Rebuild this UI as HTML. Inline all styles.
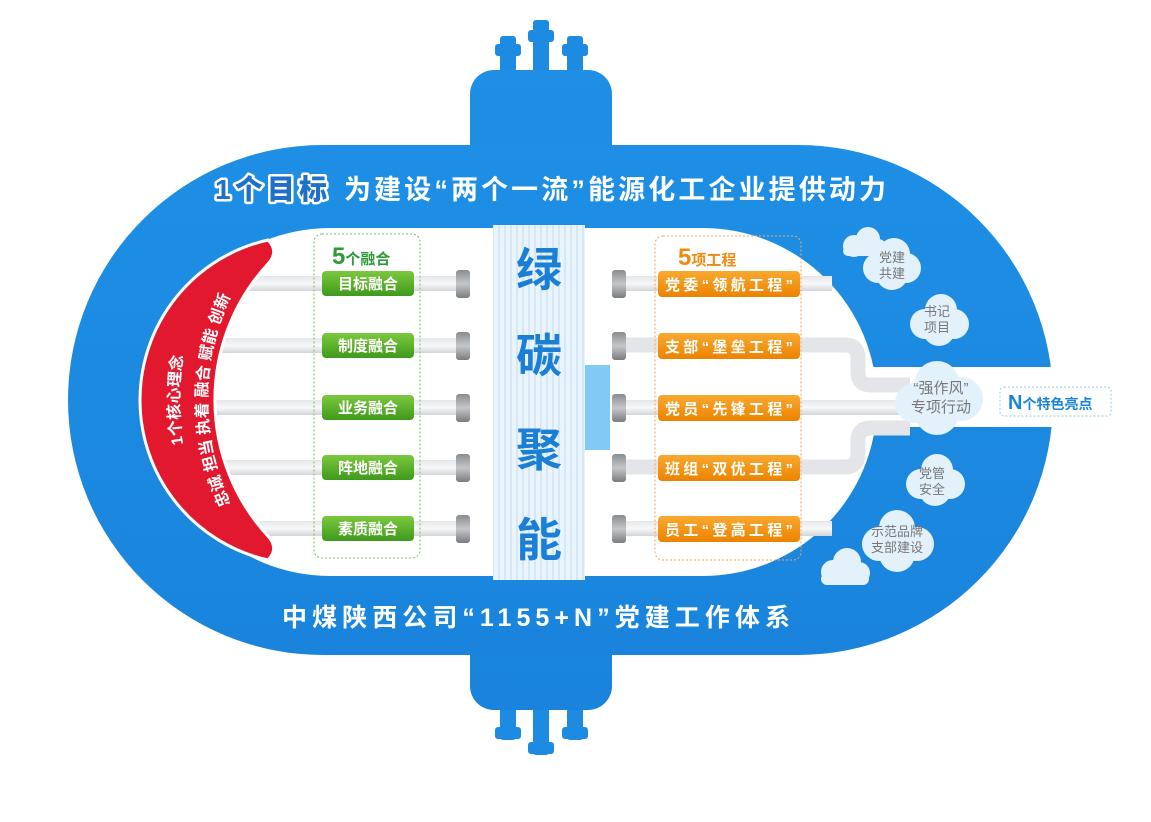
<!DOCTYPE html>
<html><head><meta charset="utf-8"><style>
html,body{margin:0;padding:0;background:#fff;}
svg{display:block;font-family:"Liberation Sans","Noto Sans CJK SC",sans-serif;}
</style></head><body>
<svg width="1151" height="822" viewBox="0 0 1151 822" xmlns="http://www.w3.org/2000/svg">
<defs>
<linearGradient id="pipe" x1="0" y1="0" x2="0" y2="1">
<stop offset="0" stop-color="#e4e6e8"/><stop offset="0.5" stop-color="#f7f8f9"/><stop offset="1" stop-color="#d3d6d9"/></linearGradient>
<linearGradient id="cap" x1="0" y1="0" x2="0" y2="1">
<stop offset="0" stop-color="#8a8d90"/><stop offset="0.5" stop-color="#c4c6c8"/><stop offset="1" stop-color="#7a7d80"/></linearGradient>
<linearGradient id="grn" x1="0" y1="0" x2="0" y2="1">
<stop offset="0" stop-color="#7cc83e"/><stop offset="1" stop-color="#3f9a1c"/></linearGradient>
<linearGradient id="org" x1="0" y1="0" x2="0" y2="1">
<stop offset="0" stop-color="#f9a930"/><stop offset="1" stop-color="#ec8300"/></linearGradient>
<linearGradient id="blu" x1="0" y1="0" x2="0" y2="1">
<stop offset="0" stop-color="#1e8fe5"/><stop offset="1" stop-color="#1a84dc"/></linearGradient>
<pattern id="stripe" width="6" height="10" patternUnits="userSpaceOnUse">
<rect width="6" height="10" fill="#eaf4fc"/><rect x="0" width="2" height="10" fill="#d6e8f7"/></pattern>
<path id="p1" d="M243,574 A270,270 0 0 1 243,226"/>
<path id="p2" d="M264,556 A243,243 0 0 1 264,244"/>
</defs>

<g fill="#1d8be2">
<rect x="500" y="36" width="16" height="50" rx="3"/><rect x="495" y="44" width="26" height="12" rx="3"/>
<rect x="533" y="20" width="16" height="60" rx="3"/><rect x="528" y="30" width="26" height="12" rx="3"/>
<rect x="567" y="36" width="16" height="50" rx="3"/><rect x="562" y="44" width="26" height="12" rx="3"/>
<rect x="500" y="690" width="16" height="50" rx="3"/><rect x="495" y="727" width="26" height="12" rx="3"/>
<rect x="533" y="690" width="16" height="65" rx="3"/><rect x="528" y="742" width="26" height="12" rx="3"/>
<rect x="567" y="690" width="16" height="50" rx="3"/><rect x="562" y="727" width="26" height="12" rx="3"/>
</g>
<rect x="470" y="70" width="142" height="640" rx="24" fill="url(#blu)"/>

<path d="M323,145 H798 A255,255 0 0 1 798,655 H323 A255,255 0 0 1 323,145 Z" fill="url(#blu)"/>
<path d="M330,228 H703 A174,174 0 0 1 703,576 H330 A174,174 0 0 1 330,228 Z" fill="#fff"/>
<rect x="850" y="367" width="215" height="60" fill="#fff"/>

<g fill="url(#pipe)">
<rect x="230" y="276" width="240" height="15"/>
<rect x="200" y="338" width="270" height="15"/>
<rect x="190" y="400" width="280" height="15"/>
<rect x="200" y="460" width="270" height="15"/>
<rect x="230" y="521" width="240" height="15"/>
<rect x="612" y="276" width="220" height="15"/>
<rect x="612" y="521" width="220" height="15"/>
<rect x="612" y="400" width="300" height="15"/>
</g>
<g fill="none" stroke="#e3e5e8" stroke-width="15">
<path d="M612,345 H845 Q858,345 858,358 V372 Q858,385 871,385 H910"/>
<path d="M612,467 H845 Q858,467 858,454 V440 Q858,428 871,428 H910"/>
</g>
<g fill="url(#cap)">
<rect x="456" y="270" width="14" height="28" rx="3"/><rect x="456" y="332" width="14" height="28" rx="3"/>
<rect x="456" y="394" width="14" height="28" rx="3"/><rect x="456" y="454" width="14" height="28" rx="3"/>
<rect x="456" y="515" width="14" height="28" rx="3"/>
<rect x="612" y="270" width="14" height="28" rx="3"/><rect x="612" y="332" width="14" height="28" rx="3"/>
<rect x="612" y="394" width="14" height="28" rx="3"/><rect x="612" y="454" width="14" height="28" rx="3"/>
<rect x="612" y="515" width="14" height="28" rx="3"/>
</g>

<rect x="493" y="225" width="92" height="355" fill="url(#stripe)"/>
<rect x="585" y="365" width="25" height="85" fill="#82c9f4"/>
<g fill="#1b7fd6" font-size="46" font-weight="bold" text-anchor="middle">
<text x="539" y="286">绿</text><text x="539" y="372">碳</text>
<text x="539" y="466">聚</text><text x="539" y="556">能</text>
</g>

<rect x="314" y="234" width="106" height="324" rx="8" fill="none" stroke="#7cbf5a" stroke-dasharray="2,2"/>
<rect x="655" y="236" width="146" height="324" rx="8" fill="none" stroke="#f2a55a" stroke-dasharray="2,2"/>
<text x="332" y="264" fill="#2f9a3a" font-size="24" font-weight="bold">5<tspan font-size="15">个融合</tspan></text>
<text x="678" y="265" fill="#f08a10" font-size="24" font-weight="bold">5<tspan font-size="15">项工程</tspan></text>

<g fill="url(#grn)">
<rect x="322" y="271" width="92" height="25" rx="4"/><rect x="322" y="333" width="92" height="25" rx="4"/>
<rect x="322" y="395" width="92" height="25" rx="4"/><rect x="322" y="455" width="92" height="25" rx="4"/>
<rect x="322" y="516" width="92" height="25" rx="4"/>
</g>
<g fill="#fff" font-size="15" font-weight="bold" text-anchor="middle">
<text x="368" y="289">目标融合</text><text x="368" y="351">制度融合</text>
<text x="368" y="413">业务融合</text><text x="368" y="473">阵地融合</text>
<text x="368" y="534">素质融合</text>
</g>
<g fill="url(#org)">
<rect x="658" y="271" width="142" height="26" rx="4"/><rect x="658" y="333" width="142" height="26" rx="4"/>
<rect x="658" y="395" width="142" height="26" rx="4"/><rect x="658" y="455" width="142" height="26" rx="4"/>
<rect x="658" y="516" width="142" height="26" rx="4"/>
</g>
<g fill="#fff" font-size="15" font-weight="bold">
<text x="665" y="290" textLength="128">党委“领航工程”</text><text x="665" y="352" textLength="128">支部“堡垒工程”</text>
<text x="665" y="414" textLength="128">党员“先锋工程”</text><text x="665" y="474" textLength="128">班组“双优工程”</text>
<text x="665" y="535" textLength="128">员工“登高工程”</text>
</g>

<path d="M268,240 A164,164 0 0 0 268,560 Q280,548 267,535 A201,201 0 0 1 267,265 Q280,252 268,240 Z" fill="#e2182e" stroke="#fff" stroke-width="3"/>
<g fill="#fff" font-size="16" font-weight="bold">
<text><textPath href="#p1" startOffset="50%" text-anchor="middle">1个核心理念</textPath></text>
<text><textPath href="#p2" startOffset="50%" text-anchor="middle">忠诚 担当 执着 融合 赋能 创新</textPath></text>
</g>

<g fill="#e3f1fb">
<g transform="translate(862,242)"><circle cx="-8" cy="4" r="11"/><circle cx="6" cy="-3" r="12"/><circle cx="16" cy="6" r="9"/><rect x="-19" y="4" width="44" height="10" rx="5"/></g>
<g transform="translate(890,262)"><circle cx="-12" cy="6" r="15"/><circle cx="4" cy="-8" r="16"/><circle cx="16" cy="6" r="15"/><circle cx="2" cy="12" r="16"/></g>
<g transform="translate(937,318)"><circle cx="-12" cy="6" r="15"/><circle cx="4" cy="-8" r="16"/><circle cx="17" cy="6" r="15"/><circle cx="2" cy="12" r="16"/></g>
<g transform="translate(937,397)"><circle cx="-22" cy="6" r="20"/><circle cx="0" cy="-14" r="22"/><circle cx="24" cy="2" r="22"/><circle cx="0" cy="16" r="22"/></g>
<g transform="translate(933,478)"><circle cx="-12" cy="6" r="15"/><circle cx="4" cy="-8" r="16"/><circle cx="17" cy="6" r="15"/><circle cx="2" cy="12" r="16"/></g>
<g transform="translate(897,540)"><circle cx="-18" cy="4" r="17"/><circle cx="0" cy="-12" r="18"/><circle cx="20" cy="4" r="17"/><circle cx="0" cy="14" r="18"/></g>
<g transform="translate(843,568)"><circle cx="-10" cy="4" r="12"/><circle cx="4" cy="-6" r="14"/><circle cx="16" cy="5" r="11"/><rect x="-22" y="5" width="48" height="12" rx="6"/></g>
</g>
<g fill="#777" font-size="13" text-anchor="middle">
<text x="892" y="262">党建</text><text x="892" y="278">共建</text>
<text x="937" y="316">书记</text><text x="937" y="332">项目</text>
<text x="941" y="393" font-size="15">“强作风”</text><text x="941" y="412" font-size="15">专项行动</text>
<text x="932" y="478">党管</text><text x="932" y="494">安全</text>
<text x="897" y="536">示范品牌</text><text x="897" y="552">支部建设</text>
</g>
<rect x="1000" y="387" width="111" height="29" rx="4" fill="#fff" stroke="#9ccbe8" stroke-dasharray="2,2"/>
<text x="1008" y="409" fill="#1a84d8" font-size="20" font-weight="bold">N<tspan font-size="14">个特色亮点</tspan></text>

<text x="215" y="199" font-size="28" font-weight="900" fill="#1f70c8" stroke="#fff" stroke-width="5" paint-order="stroke" stroke-linejoin="round" textLength="112">1个目标</text>
<text x="344" y="199" font-size="27" font-weight="bold" fill="#fff" textLength="542">为建设“两个一流”能源化工企业提供动力</text>
<text x="282" y="626" font-size="25" font-weight="bold" fill="#fff" textLength="508">中煤陕西公司“1155+N”党建工作体系</text>
</svg>
</body></html>
